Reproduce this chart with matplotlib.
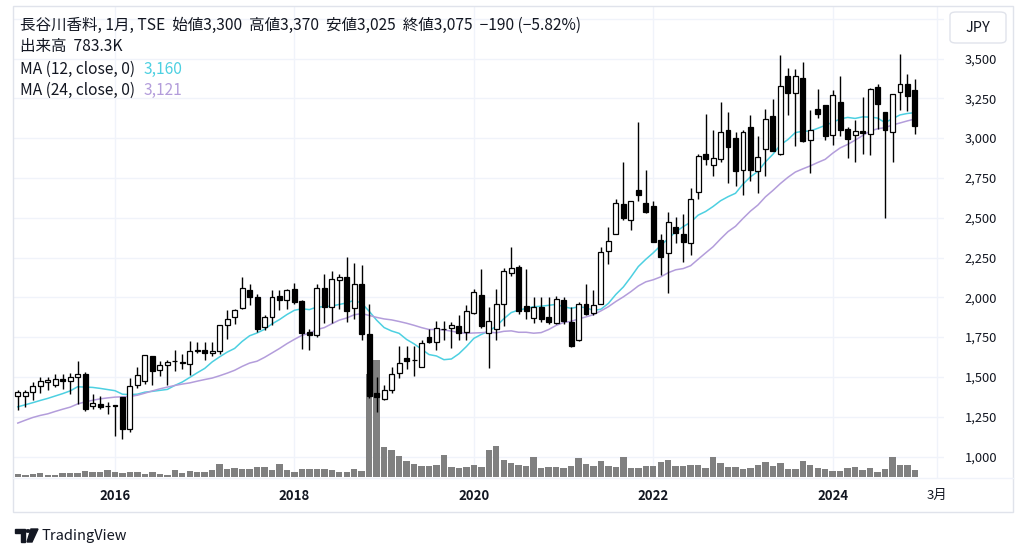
import numpy as np
import pandas as pd
import matplotlib.pyplot as plt
import matplotlib.transforms as mtransforms
from matplotlib.patches import FancyBboxPatch, Rectangle, Polygon, Circle
from matplotlib.lines import Line2D

plt.rcParams['font.family'] = ['Noto Sans CJK JP', 'DejaVu Sans']

W, H = 1024, 557

# monthly bars, first bar = Dec 2014, index 0 = Jan 2016
opens = [1377, 1379, 1404, 1440, 1470, 1452, 1488, 1477, 1498, 1519, 1318, 1327, 1318,
         1322, 1373, 1174, 1446, 1475, 1632, 1542, 1576, 1597, 1589, 1582, 1664,
         1666, 1649, 1662, 1827, 1874, 1934, 2047, 2005, 1812, 1875, 2009, 1984,
         2051, 1976, 1779, 1764, 2060, 1938, 2110, 2127, 1934, 2081, 1771, 1398,
         1362, 1415, 1526, 1618, 1605, 1565, 1750, 1718, 1798, 1808, 1819, 1785,
         1900, 2015, 1775, 1802, 1955, 2154, 2189, 1944, 1871, 1938, 1875, 1840,
         1986, 1844, 1729, 1959, 1903, 1955, 2290, 2395, 2587, 2487, 2675, 2591,
         2575, 2357, 2277, 2441, 2395, 2340, 2661, 2901, 2834, 2870, 3048, 3000,
         2801, 3069, 2792, 2929, 3138, 2901, 3393, 3285, 3379, 2989, 3180, 3205,
         3017, 3226, 3058, 3017, 3046, 3027, 3320, 3167, 3037, 3289, 3337, 3300]
highs = [1419, 1415, 1467, 1498, 1502, 1519, 1519, 1523, 1599, 1530, 1390, 1377, 1341,
         1325, 1373, 1494, 1561, 1639, 1632, 1599, 1607, 1666, 1645, 1725, 1722,
         1722, 1718, 1827, 1922, 1924, 2127, 2085, 2022, 1886, 2047, 2047, 2053,
         2089, 1980, 1802, 2081, 2148, 2164, 2148, 2252, 2215, 2200, 1959, 1498,
         1446, 1565, 1691, 1691, 1697, 1729, 1802, 1854, 1850, 1842, 1886, 1949,
         2053, 2179, 1938, 2053, 2185, 2319, 2200, 2179, 2005, 2001, 2005, 2011,
         2001, 1938, 1969, 2085, 2047, 2319, 2441, 2619, 2849, 2608, 3098, 2797,
         2608, 2399, 2535, 2504, 2525, 2688, 2901, 3153, 3048, 3226, 3163, 3037,
         3048, 3142, 3012, 3180, 3247, 3519, 3440, 3431, 3481, 3178, 3310, 3209,
         3299, 3387, 3070, 3111, 3257, 3314, 3341, 3167, 3278, 3530, 3404, 3370]
lows = [1289, 1310, 1356, 1398, 1419, 1435, 1421, 1394, 1331, 1285, 1299, 1299, 1264,
        1126, 1111, 1153, 1431, 1456, 1452, 1505, 1446, 1536, 1551, 1509, 1649,
        1607, 1630, 1645, 1739, 1835, 1927, 1951, 1780, 1792, 1823, 1921, 1928,
        1959, 1676, 1670, 1750, 1838, 1838, 1928, 1844, 1865, 1729, 1370, 1278,
        1352, 1398, 1494, 1551, 1503, 1561, 1712, 1666, 1729, 1683, 1733, 1733,
        1892, 1808, 1557, 1733, 1817, 2131, 1896, 1865, 1838, 1844, 1830, 1833,
        1835, 1690, 1725, 1886, 1890, 1955, 2210, 2395, 2487, 2420, 2604, 2529,
        2346, 2137, 2026, 2340, 2221, 2263, 2619, 2828, 2759, 2850, 2717, 2702,
        2640, 2730, 2654, 2761, 2916, 2891, 3142, 2950, 2975, 2780, 3125, 2985,
        2954, 3012, 2874, 2849, 2897, 2891, 3058, 2497, 2849, 3174, 3170, 3025]
closes = [1404, 1406, 1440, 1475, 1478, 1488, 1475, 1502, 1519, 1299, 1335, 1314, 1316,
          1320, 1174, 1444, 1513, 1639, 1536, 1576, 1591, 1599, 1591, 1662, 1666,
          1649, 1664, 1827, 1865, 1920, 2060, 2005, 1802, 1875, 2001, 1986, 2047,
          1970, 1777, 1764, 2060, 1938, 2116, 2127, 1913, 2081, 1771, 1383, 1373,
          1415, 1519, 1588, 1599, 1607, 1714, 1722, 1806, 1800, 1825, 1775, 1917,
          2032, 1817, 1848, 1959, 2164, 2185, 1913, 1917, 1938, 1861, 1844, 1990,
          1854, 1697, 1959, 1896, 1951, 2284, 2353, 2591, 2499, 2604, 2640, 2535,
          2346, 2252, 2472, 2403, 2346, 2619, 2885, 2866, 2876, 3037, 2947, 2792,
          3037, 2801, 2880, 3121, 2918, 3326, 3285, 3393, 2981, 3052, 3153, 3012,
          3268, 3054, 2996, 3046, 3033, 3310, 3215, 3048, 3274, 3337, 3264, 3075]
# volume in thousands of shares
volumes_k = [270, 235, 315, 430, 235, 200, 470, 385, 430, 700, 585, 585, 820,
             585, 430, 505, 585, 315, 585, 315, 200, 820, 430, 700, 585,
             585, 785, 1485, 900, 970, 900, 855, 1090, 1090, 785, 1520, 785,
             585, 900, 900, 900, 900, 785, 585, 585, 900, 700, 12040, 13680,
             3510, 3120, 2420, 1870, 1520, 1290, 1290, 1400, 2540, 1170, 970, 1090,
             1370, 1170, 3120, 3590, 1950, 1555, 1370, 1250, 2340, 970, 1170, 1170,
             1050, 1250, 2140, 1485, 1250, 1870, 1290, 1090, 2260, 1015, 970, 1290,
             1290, 1755, 1950, 1290, 1290, 1400, 1400, 1015, 2260, 1635, 1170, 1170,
             900, 995, 1320, 1755, 1250, 1555, 855, 900, 1835, 1320, 970, 855,
             700, 700, 970, 1170, 785, 970, 585, 900, 2260, 1320, 1320, 783]
ma12_head = [1312, 1325, 1338, 1352, 1365, 1380, 1395, 1412, 1438, 1436, 1434]
ma24_head = [1210, 1228, 1245, 1258, 1268, 1283, 1297, 1310, 1330, 1343, 1353, 1362,
             1368, 1373, 1375, 1377, 1385, 1398, 1412, 1425, 1436, 1446, 1455]

year_ticks = [0, 24, 48, 72, 96]
year_labels = ['2016', '2018', '2020', '2022', '2024']
price_ticks = [1000, 1250, 1500, 1750, 2000, 2250, 2500, 2750, 3000, 3250, 3500]

idx = np.arange(-13, -13 + len(closes))
o = np.array(opens, float)
h = np.array(highs, float)
l = np.array(lows, float)
c = np.array(closes, float)

cs = pd.Series(c)
ma12 = cs.rolling(12).mean().to_numpy()
ma12[:11] = ma12_head
ma24 = cs.rolling(24).mean().to_numpy()
ma24[:23] = ma24_head

TXT = '#131722'
GRID = '#f0f3fa'
BORDER = '#e0e3eb'
CYAN = '#4dd0e1'
LAV = '#b39ddb'


def fx(x):
    return x / W


def fy(y):
    return 1 - y / H


fig = plt.figure(figsize=(W / 100, H / 100), dpi=100)
fig.patch.set_facecolor('white')

left, right, top, bottom = 13, 944, 6, 478
rect = [fx(left), fy(bottom), (right - left) / W, (bottom - top) / H]

axv = fig.add_axes(rect)
ax = fig.add_axes(rect, sharex=axv)
ax.patch.set_alpha(0)

px_per_month = 7.476
x0 = 115
ax.set_xlim((left - x0) / px_per_month, (right - x0) / px_per_month)
py = 0.1592
ax.set_ylim(1000 - (bottom - 456.5) / py, 1000 + (456.5 - top) / py)

# volume pane (behind)
k_per_px = 116.9
axv.set_ylim(-1.3 * k_per_px, (bottom - top - 1.3) * k_per_px)
axv.bar(idx, volumes_k, width=0.86, color='#808080', zorder=2)

# grid on the volume axes so bars sit on top of it
blend = mtransforms.blended_transform_factory(axv.transAxes, ax.transData)
for p in price_ticks + [3750]:
    axv.plot([0, 1], [p, p], transform=blend, color=GRID, lw=1, zorder=0)
for t in year_ticks + [110]:
    axv.axvline(t, color=GRID, lw=1, zorder=0)

for a in (axv, ax):
    for s in a.spines.values():
        s.set_visible(False)
axv.tick_params(left=False, labelleft=False, bottom=False, labelbottom=False)

# candles
up = c >= o
ax.vlines(idx, l, h, color='black', lw=1, zorder=3)
body_lo = np.minimum(o, c)
body_h = np.maximum(np.abs(c - o), 4)
ax.bar(idx[up], body_h[up], bottom=body_lo[up], width=0.66,
       color='white', edgecolor='black', lw=0.9, zorder=4)
ax.bar(idx[~up], body_h[~up], bottom=body_lo[~up], width=0.66,
       color='black', edgecolor='black', lw=0.9, zorder=4)

ax.plot(idx, ma12, color=CYAN, lw=1.1, zorder=2)
ax.plot(idx, ma24, color=LAV, lw=1.1, zorder=2)

# axes labels
ax.yaxis.tick_right()
ax.set_yticks(price_ticks)
ax.set_yticklabels([f'{p:,}' for p in price_ticks])
ax.tick_params(axis='y', length=0, pad=15, labelsize=9.3, labelcolor=TXT)
ax.set_xticks(year_ticks + [110])
ax.set_xticklabels(year_labels + ['3月'])
ax.tick_params(axis='x', length=0, pad=8, labelsize=9.5, labelcolor=TXT)
for lab in ax.get_xticklabels()[:-1]:
    lab.set_fontweight('bold')

# frame
fig.add_artist(Rectangle((fx(13), fy(512)), (1013 - 13) / W, (512 - 6) / H,
                         transform=fig.transFigure, fill=False,
                         edgecolor=BORDER, lw=1))
fig.add_artist(Line2D([fx(13), fx(1013)], [fy(478), fy(478)],
                      transform=fig.transFigure, color=GRID, lw=1))

# currency box
fig.add_artist(FancyBboxPatch((fx(950), fy(43)), (1006 - 950) / W, (43 - 12) / H,
                              boxstyle='round,pad=0,rounding_size=0.006',
                              transform=fig.transFigure, facecolor='white',
                              edgecolor=BORDER, lw=1))
fig.text(fx(978), fy(28), 'JPY', ha='center', va='center', fontsize=10.5, color=TXT)

# legend texts
FS = 11.2
fig.text(fx(20), fy(25),
         '長谷川香料, 1月, TSE  始値3,300  高値3,370  安値3,025  終値3,075  −190 (−5.82%)',
         ha='left', va='center', fontsize=FS, color=TXT)
fig.text(fx(20), fy(47), '出来高  783.3K', ha='left', va='center', fontsize=FS, color=TXT)
t1 = fig.text(fx(20), fy(69), 'MA (12, close, 0)', ha='left', va='center',
              fontsize=FS, color=TXT)
t2 = fig.text(fx(20), fy(90), 'MA (24, close, 0)', ha='left', va='center',
              fontsize=FS, color=TXT)
fig.canvas.draw()
r = fig.canvas.get_renderer()
x_val = t1.get_window_extent(r).x1 + 9
fig.text(fx(x_val), fy(69), '3,160', ha='left', va='center', fontsize=FS, color=CYAN)
fig.text(fx(x_val), fy(90), '3,121', ha='left', va='center', fontsize=FS, color=LAV)

# TradingView logo
logo = '#131722'
fig.add_artist(Polygon([(fx(15), fy(529)), (fx(25), fy(529)), (fx(25), fy(542)),
                        (fx(21), fy(542)), (fx(21), fy(533)), (fx(15), fy(533))],
                       closed=True, transform=fig.transFigure, color=logo))
fig.add_artist(Circle((fx(28), fy(531)), 2.2 / W, transform=fig.transFigure, color=logo))
fig.add_artist(Polygon([(fx(31), fy(529)), (fx(38), fy(529)), (fx(32), fy(542)),
                        (fx(27), fy(542))],
                       closed=True, transform=fig.transFigure, color=logo))
fig.text(fx(41), fy(536), 'TradingView', ha='left', va='center', fontsize=10.5,
         color=logo)

fig.savefig('out.png', dpi=100)
